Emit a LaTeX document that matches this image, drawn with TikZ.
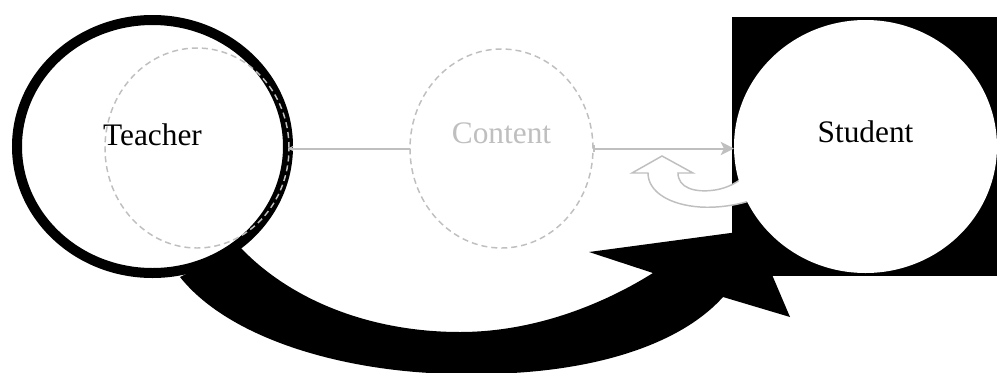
\documentclass[tikz,border=0pt]{standalone}
\usepackage{fontspec}
\setmainfont{Liberation Serif}
\usetikzlibrary{shapes.geometric,arrows.meta}
\definecolor{lightgrey}{RGB}{191,191,191}
\begin{document}
\begin{tikzpicture}[x=0.75pt,y=-0.75pt,
  label font/.style={font=\fontsize{23.5}{28}\selectfont},
  roundnode/.style={ellipse, inner sep=0pt, outer sep=0pt, label font, text height=15pt},
  teacherbox/.style={roundnode, draw=black, fill=white, line width=7.5pt,
    minimum width=203.25pt, minimum height=189.75pt, text depth=17.25pt},
  studentbox/.style={roundnode, fill=white,
    minimum width=197.25pt, minimum height=189.75pt, text depth=21.75pt},
  ghostbox/.style={roundnode, draw=lightgrey, line width=1.1pt,
    dash pattern=on 4.5pt off 3pt},
  contentbox/.style={ghostbox, fill=white, text=lightgrey,
    minimum width=137.25pt, minimum height=149.25pt, text depth=23.25pt},
  shadowbox/.style={ghostbox, minimum width=138pt, minimum height=150pt},
  greyline/.style={draw=lightgrey, line width=1.5pt},
  hollowarrow/.style={fill=white, draw=lightgrey, line width=1.1pt, line join=miter}
]
\useasboundingbox (0,0) rectangle (997,372);

% black background behind the student
\fill[black] (732,17) rectangle (997,276);

% big black curved arrow from teacher to student
\fill[black] (240,247)
  .. controls (290,300) and (370,332) .. (460,332)
  .. controls (540,332) and (610,300) .. (653,273)
  -- (589,252) -- (753,230) -- (790,317) -- (723,297)
  .. controls (680,345) and (590,375) .. (470,374)
  .. controls (350,375) and (230,340) .. (180,277) -- cycle;

% grey hollow curved arrow
\filldraw[hollowarrow] (662,156) -- (693,173) -- (678,173)
  .. controls (678,188) and (695,193) .. (715,190)
  .. controls (728,188) and (738,182) .. (745,176)
  -- (752,200)
  .. controls (735,206) and (715,208) .. (700,207)
  .. controls (670,205) and (648,192) .. (648,173)
  -- (632,173) -- cycle;

\node[studentbox] (student) at (865.5,146.5) {Student};
\node[teacherbox] (teacher) at (152.5,146.5) {Teacher};
\node[shadowbox] (teachershadow) at (197,148) {};
\node[contentbox] (content) at (501.5,148.5) {Content};

\draw[greyline, -{Stealth[length=4pt,width=4pt]}] (content.west) -- (content.west -| teacher.east);
\draw[greyline, {Bar[width=5pt]}-{Stealth[length=10pt,width=10pt,inset=2.5pt]}] (content.east) -- (content.east -| student.west);
\end{tikzpicture}
\end{document}
